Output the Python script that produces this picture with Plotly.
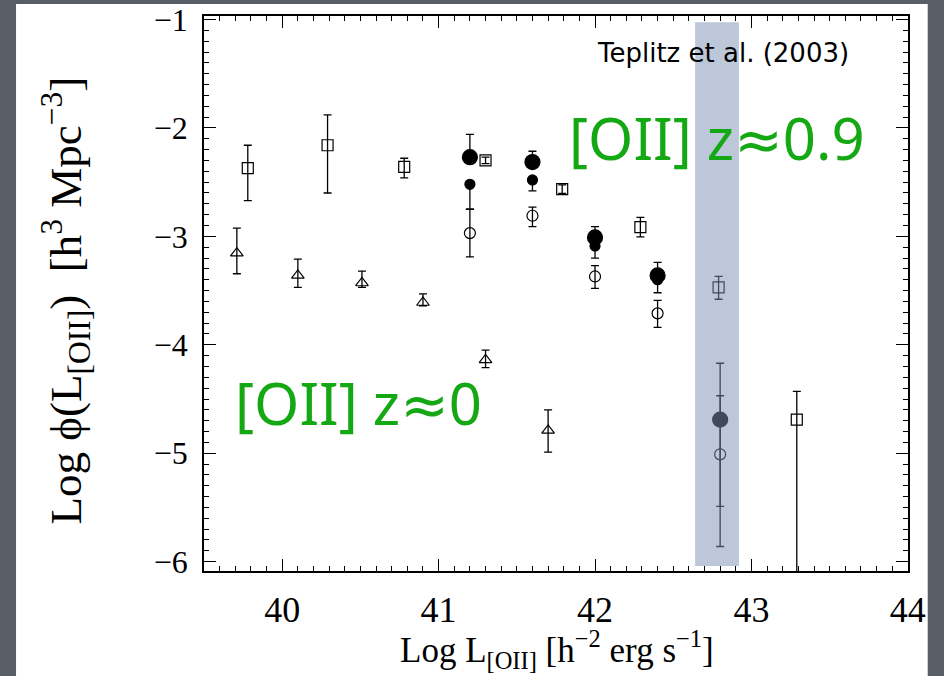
import plotly.graph_objects as go

# ---- data ----
sq_x = [39.78, 40.29, 40.78, 41.30, 41.79, 42.29, 42.79, 43.29]
sq_y = [-2.37, -2.16, -2.36, -2.30, -2.565, -2.915, -3.47, -4.69]
sq_up = [0.21, 0.28, 0.08, 0.03, 0.04, 0.09, 0.10, 0.26]
sq_dn = [0.30, 0.44, 0.10, 0.03, 0.04, 0.09, 0.11, 2.00]

tri_x = [39.71, 40.10, 40.51, 40.90, 41.30, 41.70]
tri_y = [-3.155, -3.36, -3.43, -3.61, -4.14, -4.79]
tri_up = [0.23, 0.15, 0.11, 0.08, 0.09, 0.19]
tri_dn = [0.19, 0.11, 0.04, 0.03, 0.07, 0.20]

big_x = [41.20, 41.60, 42.00, 42.40, 42.80]
big_y = [-2.27, -2.315, -3.01, -3.36, -4.69]
big_up = [0.21, 0.10, 0.10, 0.12, 0.52]
big_dn = [0.00, 0.00, 0.00, 0.00, 1.17]

small_x = [41.20, 41.60, 42.00, 42.40]
small_y = [-2.52, -2.48, -3.09, -3.40]
small_up = [0.00, 0.00, 0.00, 0.00]
small_dn = [0.23, 0.10, 0.11, 0.12]

open_x = [41.20, 41.60, 42.00, 42.40, 42.80]
open_y = [-2.97, -2.81, -3.37, -3.71, -5.01]
open_up = [0.22, 0.08, 0.10, 0.12, 0.54]
open_dn = [0.22, 0.10, 0.11, 0.13, 0.48]

x_range = [39.5, 44.001]
y_range = [-6.086, -0.968]

band_x = [42.64, 42.92]
band_y = [-6.04, -1.026]

GREEN = "#14a814"
GRAY = "#595d65"
SERIF = "Liberation Serif, Times New Roman, serif"
HAND = "Noto Sans, DejaVu Sans, sans-serif"

fig = go.Figure()


def add(x, y, up, dn, symbol, size, color="black", lw=1.2):
    fig.add_trace(go.Scatter(
        x=x, y=y, mode="markers",
        marker=dict(symbol=symbol, size=size, color=color,
                    line=dict(color="black", width=lw)),
        error_y=dict(type="data", symmetric=False, array=up, arrayminus=dn,
                     color="black", thickness=1.3, width=4),
        showlegend=False, cliponaxis=True,
    ))


add(sq_x, sq_y, sq_up, sq_dn, "square-open", 11)
add(tri_x, tri_y, tri_up, tri_dn, "triangle-up-open", 11)
add(open_x, open_y, open_up, open_dn, "circle-open", 11)
add(small_x, small_y, small_up, small_dn, "circle", 10)
add(big_x, big_y, big_up, big_dn, "circle", 15)

# white panel over the gray page
fig.add_shape(type="rect", xref="paper", yref="paper",
              x0=-0.267, x1=1.028, y0=-0.25, y1=1.0216,
              fillcolor="white", line=dict(width=0), layer="below")

# highlighted band (drawn above the points)
fig.add_shape(type="rect", xref="x", yref="y",
              x0=band_x[0], x1=band_x[1], y0=band_y[0], y1=band_y[1],
              fillcolor="rgba(124,145,180,0.51)", line=dict(width=0),
              layer="above")

ann = dict(showarrow=False, xanchor="center", yanchor="middle")
fig.add_annotation(x=42.82, y=-1.311, xref="x", yref="y",
                   text="Teplitz et al. (2003)", **ann,
                   font=dict(family="DejaVu Sans", size=26, color="black"))
fig.add_annotation(x=42.78, y=-2.086, xref="x", yref="y",
                   text="[OII] z≈0.9", **ann,
                   font=dict(family=HAND, size=58, color=GREEN))
fig.add_annotation(x=40.49, y=-4.53, xref="x", yref="y",
                   text="[OII] z≈0", **ann,
                   font=dict(family=HAND, size=58, color=GREEN))

# axis titles
fig.add_annotation(x=-0.197, y=0.488, xref="paper", yref="paper",
                   text="Log ϕ(L<sub>[OII]</sub>)  [h<sup>3</sup> Mpc<sup>−3</sup>]",
                   textangle=-90, **ann,
                   font=dict(family=SERIF, size=45, color="black"))
fig.add_annotation(x=0.501, y=-0.141, xref="paper", yref="paper",
                   text="Log L<sub>[OII]</sub> [h<sup>−2</sup> erg s<sup>−1</sup>]",
                   **ann,
                   font=dict(family=SERIF, size=35, color="black"))

common = dict(ticks="inside", ticklen=12, tickwidth=1.2, tickcolor="black",
              tickmode="linear", tick0=0, dtick=1,
              minor=dict(dtick=0.1, tick0=0, ticks="inside", ticklen=5,
                         tickwidth=1, tickcolor="black"),
              showline=True, linecolor="black", linewidth=1.5, mirror="ticks",
              showgrid=False, zeroline=False, automargin=False,
              ticklabeloverflow="allow")

fig.update_xaxes(range=x_range, **common,
                 tickfont=dict(family=SERIF, size=36, color="black"),
                 ticklabelstandoff=6)
fig.update_yaxes(range=y_range, **common,
                 tickfont=dict(family=SERIF, size=32, color="black"),
                 ticklabelstandoff=8)

fig.update_layout(width=944, height=676,
                  margin=dict(l=204, r=36, t=16, b=105),
                  paper_bgcolor=GRAY, plot_bgcolor="white")

fig.write_html("out.html", config={"displayModeBar": False},
               post_script="document.body.style.margin='0';"
                           "document.body.style.background='" + GRAY + "';")
